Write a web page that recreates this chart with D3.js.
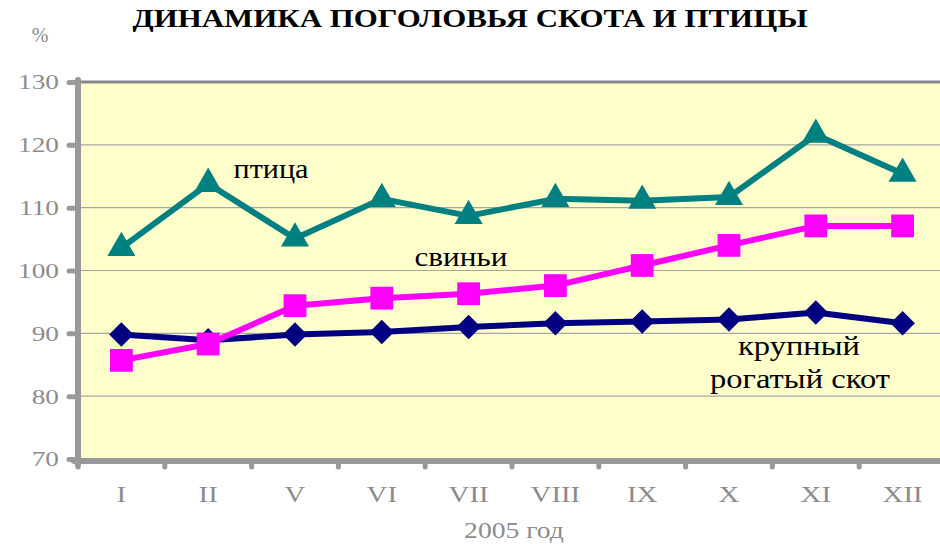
<!DOCTYPE html>
<html><head><meta charset="utf-8">
<script src="https://cdn.jsdelivr.net/npm/d3@7"></script>
<style>body{margin:0;background:#fff}svg{display:block}
svg text{font-family:"Liberation Serif","Times New Roman","DejaVu Serif",serif !important;}
</style>
</head><body><svg id="c" width="940" height="544"></svg>
<script>
const months = ["I","II","V","VI","VII","VIII","IX","X","XI","XII"];
const cattle = [89.8,88.9,89.8,90.2,91.0,91.6,91.9,92.2,93.3,91.6];
const pigs = [85.7,88.3,94.4,95.6,96.3,97.6,100.8,104.0,107.1,107.1];
const poultry = [103.6,113.8,105.1,111.4,108.7,111.4,111.1,111.7,121.6,115.4];
const yTicks = [70,80,90,100,110,120,130];
const title = "ДИНАМИКА ПОГОЛОВЬЯ СКОТА И ПТИЦЫ";
const xTitle = "2005 год";

const svg = d3.select("#c");
const L = 78, R = 946, T = 82, B = 459;
const x = d3.scaleBand().domain(months).range([L, R]);
const y = d3.scaleLinear().domain([70,130]).range([B, T]);
const gray = "#8c8c8c";
function stretch(sel, f){
  sel.each(function(){ const w=this.getComputedTextLength(); d3.select(this).attr("textLength",w*f).attr("lengthAdjust","spacingAndGlyphs"); });
}

svg.append("rect").attr("x",L).attr("y",T).attr("width",R-L).attr("height",B-T).attr("fill","#FFFFCC");
svg.append("g").selectAll("line").data(yTicks.slice(1,-1)).join("line")
  .attr("x1",L).attr("x2",R).attr("y1",d=>y(d)).attr("y2",d=>y(d))
  .attr("stroke","#a6a6a6").attr("stroke-width",1.2);
svg.append("line").attr("x1",L).attr("x2",R).attr("y1",T).attr("y2",T).attr("stroke","#8a8a8a").attr("stroke-width",3);

const yAxis = svg.append("g").attr("transform",`translate(${L},0)`)
  .call(d3.axisLeft(y).tickValues(yTicks).tickSize(9).tickPadding(10));
const xAxis = svg.append("g").attr("transform",`translate(0,${B+2})`)
  .call(d3.axisBottom(x).tickSize(0));
[yAxis,xAxis].forEach(g=>{
  g.selectAll("text").attr("fill",gray);
  g.selectAll("line").attr("stroke","#999").attr("stroke-width",5).attr("stroke-linecap","round");
  g.select(".domain").remove();
});
yAxis.selectAll("text").attr("font-size",21).attr("dy","0.33em");
xAxis.selectAll("text").attr("font-size",24).attr("y",502-(B+2)).attr("dy",0);
stretch(yAxis.selectAll("text"),1.3);
stretch(xAxis.selectAll("text"),1.2);

svg.append("g").selectAll("line").data(months).join("line")
  .attr("x1",d=>x(d)).attr("x2",d=>x(d)).attr("y1",B+2).attr("y2",B+8)
  .attr("stroke","#999").attr("stroke-width",5).attr("stroke-linecap","round");
svg.append("line").attr("x1",L).attr("x2",L).attr("y1",T-2).attr("y2",B+6)
  .attr("stroke","#999").attr("stroke-width",6).attr("stroke-linecap","round");
svg.append("line").attr("x1",L-4).attr("x2",R).attr("y1",B+2).attr("y2",B+2)
  .attr("stroke","#999").attr("stroke-width",6).attr("stroke-linecap","round");

const cx = d => x(d) + x.bandwidth()/2;
const series = [
  {vals: cattle, color:"#000080", sym: d3.symbolSquare, size: 300, rot:45},
  {vals: pigs, color:"#FF00FF", sym: d3.symbolSquare, size: 520, rot:0},
  {vals: poultry, color:"#008080", sym: d3.symbolTriangle, size: 340, rot:0}
];
const line = d3.line().x((d,i)=>cx(months[i])).y(d=>y(d));
series.forEach(s=>{
  svg.append("path").datum(s.vals).attr("d",line).attr("fill","none")
    .attr("stroke",s.color).attr("stroke-width",6).attr("stroke-linejoin","round");
  svg.append("g").selectAll("path").data(s.vals).join("path")
    .attr("transform",(d,i)=>`translate(${cx(months[i])},${y(d)}) rotate(${s.rot})`)
    .attr("d",d3.symbol().type(s.sym).size(s.size)).attr("fill",s.color);
});
const lab = (t,xx,yy,w)=>svg.append("text").attr("x",xx).attr("y",yy).attr("text-anchor","middle")
  .attr("font-size",27).attr("fill","#000").attr("textLength",w).attr("lengthAdjust","spacingAndGlyphs").text(t);
lab("птица",271,178,75);
lab("свиньи",461,266,93);
lab("крупный",799,355,122);
lab("рогатый скот",800,388,180);

svg.append("text").attr("x",470).attr("y",27).attr("text-anchor","middle")
  .attr("font-weight","bold").attr("font-size",26)
  .attr("textLength",675).attr("lengthAdjust","spacingAndGlyphs").text(title);
svg.append("text").attr("x",40).attr("y",42).attr("text-anchor","middle")
  .attr("font-size",20).attr("fill",gray).text("%");
const xt = svg.append("text").attr("x",514).attr("y",538).attr("text-anchor","middle")
  .attr("font-size",24).attr("fill",gray).text(xTitle);
stretch(xt,1.15);
</script></body></html>
